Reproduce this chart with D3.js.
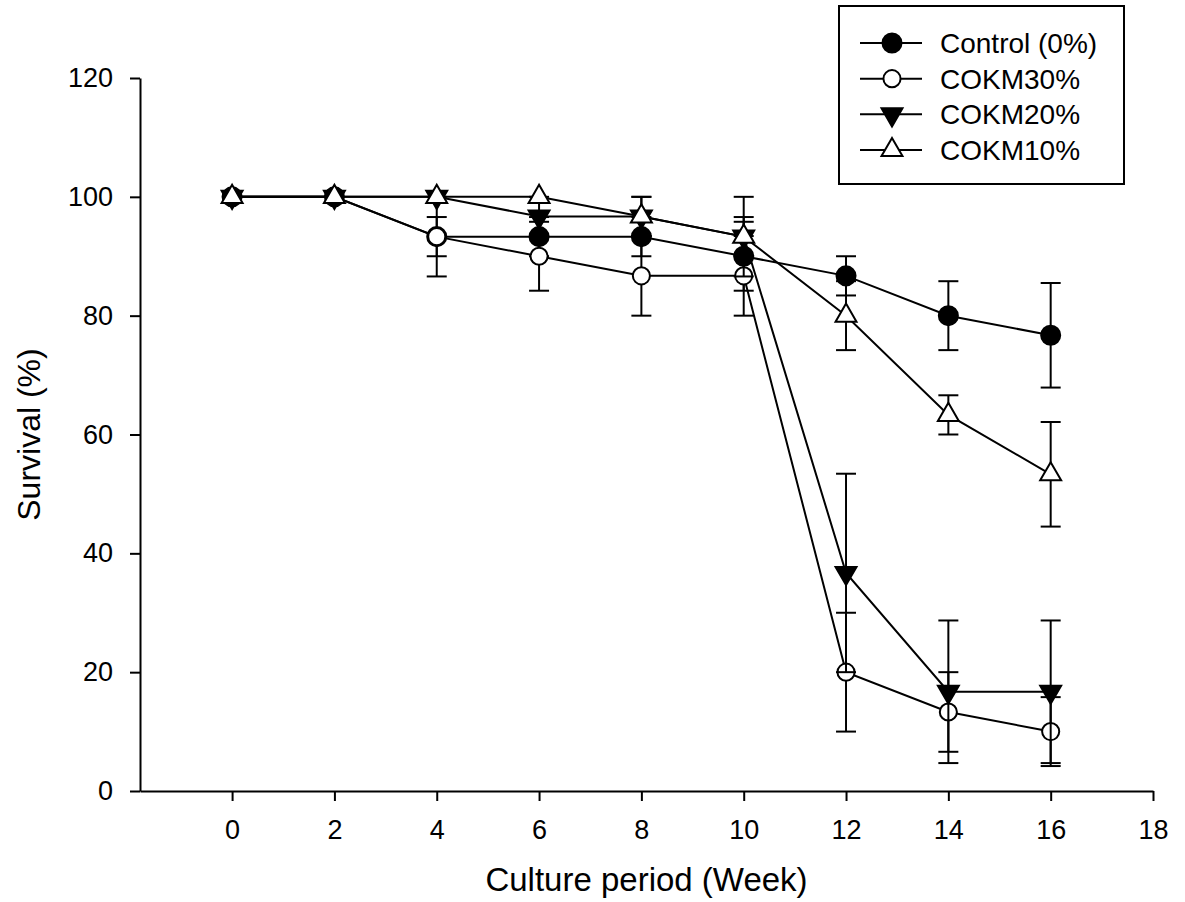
<!DOCTYPE html>
<html>
<head>
<meta charset="utf-8">
<script src="https://cdn.jsdelivr.net/npm/d3@7"></script>
<style>
  body { margin: 0; background: #fff; }
  svg { font-family: "Liberation Sans", Arial, sans-serif; }
  .axis path, .axis line { stroke: #000; stroke-width: 2; }
  .axis text { fill: #000; }
  .series path.line { fill: none; stroke: #000; stroke-width: 2; }
  .errbar line { stroke: #000; stroke-width: 2; }
  .legend rect { fill: #fff; stroke: #000; stroke-width: 2; }
  .legend line { stroke: #000; stroke-width: 2; }
</style>
</head>
<body>
<svg width="1185" height="902"></svg>
<script>
const weeks = [0, 2, 4, 6, 8, 10, 12, 14, 16];

const control   = [100, 100, 93.3, 93.3, 93.3, 90, 86.7, 80, 76.7];
const controlSE = [0, 0, 3.3, 3.3, 3.3, 5.8, 3.3, 5.8, 8.8];

const cokm30   = [100, 100, 93.3, 90, 86.7, 86.7, 20, 13.3, 10];
const cokm30SE = [0, 0, 6.7, 5.8, 6.7, 6.7, 10, 6.7, 5.8];

const cokm20   = [100, 100, 100, 96.7, 96.7, 93.3, 36.7, 16.7, 16.7];
const cokm20SE = [0, 0, 0, 3.3, 3.3, 3.3, 16.7, 12, 12];

const cokm10   = [100, 100, 100, 100, 96.7, 93.3, 80, 63.3, 53.3];
const cokm10SE = [0, 0, 0, 0, 3.3, 6.7, 5.8, 3.3, 8.8];

const seriesNames = ["Control (0%)", "COKM30%", "COKM20%", "COKM10%"];
const xTicks = [0, 2, 4, 6, 8, 10, 12, 14, 16, 18];
const yTicks = [0, 20, 40, 60, 80, 100, 120];

const xTitle = "Culture period (Week)";
const yTitle = "Survival (%)";

const svg = d3.select("svg");
const margin = { top: 78, right: 32, bottom: 111, left: 140 };
const w = +svg.attr("width") - margin.left - margin.right;
const h = +svg.attr("height") - margin.top - margin.bottom;

const x = d3.scaleLinear()
  .domain([-1.8, 18])
  .range([margin.left, margin.left + w]);

const y = d3.scaleLinear()
  .domain([0, 120])
  .range([margin.top + h, margin.top]);

// marker shapes: filled circle, open circle, filled down triangle, open up triangle
const symbols = [
  { shape: d3.symbolCircle, size: 285, fill: "#000", rotate: 0 },
  { shape: d3.symbolCircle, size: 230, fill: "#fff", rotate: 0 },
  { shape: d3.symbolTriangle, size: 190, fill: "#000", rotate: 180 },
  { shape: d3.symbolTriangle, size: 190, fill: "#fff", rotate: 0 }
];

const series = [
  [control, controlSE],
  [cokm30, cokm30SE],
  [cokm20, cokm20SE],
  [cokm10, cokm10SE]
].map(([vals, se], i) => ({
  name: seriesNames[i],
  sym: symbols[i],
  points: weeks.map((wk, j) => ({ wk, v: vals[j], se: se[j] }))
}));

const drawSymbol = (sel, sym) => sel
  .attr("d", d3.symbol(sym.shape, sym.size))
  .attr("fill", sym.fill)
  .attr("stroke", "#000")
  .attr("stroke-width", 2);

// axes
svg.append("g")
    .attr("class", "axis x-axis")
    .attr("transform", `translate(0, ${margin.top + h})`)
    .call(d3.axisBottom(x).tickValues(xTicks).tickSize(10).tickSizeOuter(0).tickPadding(19))
    .call(g => g.selectAll("text")
      .attr("font-size", 27)
      .attr("font-family", null));

svg.append("g")
    .attr("class", "axis y-axis")
    .attr("transform", `translate(${margin.left}, 0)`)
    .call(d3.axisLeft(y).tickValues(yTicks).tickSize(10).tickSizeOuter(0).tickPadding(17))
    .call(g => g.selectAll("text")
      .attr("font-size", 27)
      .attr("font-family", null));

svg.append("text")
    .attr("x", margin.left + w / 2)
    .attr("y", margin.top + h + 100)
    .attr("text-anchor", "middle")
    .attr("font-size", 33)
    .text(xTitle);

svg.append("text")
    .attr("transform", `translate(40, ${margin.top + h / 2}) rotate(-90)`)
    .attr("text-anchor", "middle")
    .attr("font-size", 32)
    .text(yTitle);

// series
const line = d3.line()
  .x(d => x(d.wk))
  .y(d => y(d.v));

const capW = 10;

series.forEach(s => {
  const g = svg.append("g").attr("class", "series");

  const bars = g.append("g")
      .attr("class", "errbar")
    .selectAll("g")
    .data(s.points.filter(d => d.se > 0))
    .join("g");

  bars.append("line")
      .attr("x1", d => x(d.wk))
      .attr("x2", d => x(d.wk))
      .attr("y1", d => y(d.v - d.se))
      .attr("y2", d => y(d.v + d.se));
  bars.append("line")
      .attr("x1", d => x(d.wk) - capW)
      .attr("x2", d => x(d.wk) + capW)
      .attr("y1", d => y(d.v + d.se))
      .attr("y2", d => y(d.v + d.se));
  bars.append("line")
      .attr("x1", d => x(d.wk) - capW)
      .attr("x2", d => x(d.wk) + capW)
      .attr("y1", d => y(d.v - d.se))
      .attr("y2", d => y(d.v - d.se));

  g.append("path")
      .attr("class", "line")
      .datum(s.points)
      .attr("d", line);

  g.selectAll("path.marker")
    .data(s.points)
    .join("path")
      .attr("class", "marker")
      .attr("transform", d => `translate(${x(d.wk)}, ${y(d.v)}) rotate(${s.sym.rotate})`)
      .call(drawSymbol, s.sym);
});

// legend
const legend = svg.append("g")
    .attr("class", "legend");

legend.append("rect")
    .attr("x", 839)
    .attr("y", 6)
    .attr("width", 285)
    .attr("height", 178);

const rowY = d3.scalePoint()
  .domain(seriesNames)
  .range([43, 150]);

const item = legend.selectAll("g")
  .data(series)
  .join("g")
    .attr("transform", d => `translate(0, ${rowY(d.name)})`);

item.append("line")
    .attr("x1", 860)
    .attr("x2", 922);

item.append("path")
    .attr("transform", d => `translate(892, 0) rotate(${d.sym.rotate})`)
    .each(function(d) { d3.select(this).call(drawSymbol, d.sym); });

item.append("text")
    .attr("x", 940)
    .attr("dy", "0.36em")
    .attr("font-size", 28)
    .text(d => d.name);
</script>
</body>
</html>
